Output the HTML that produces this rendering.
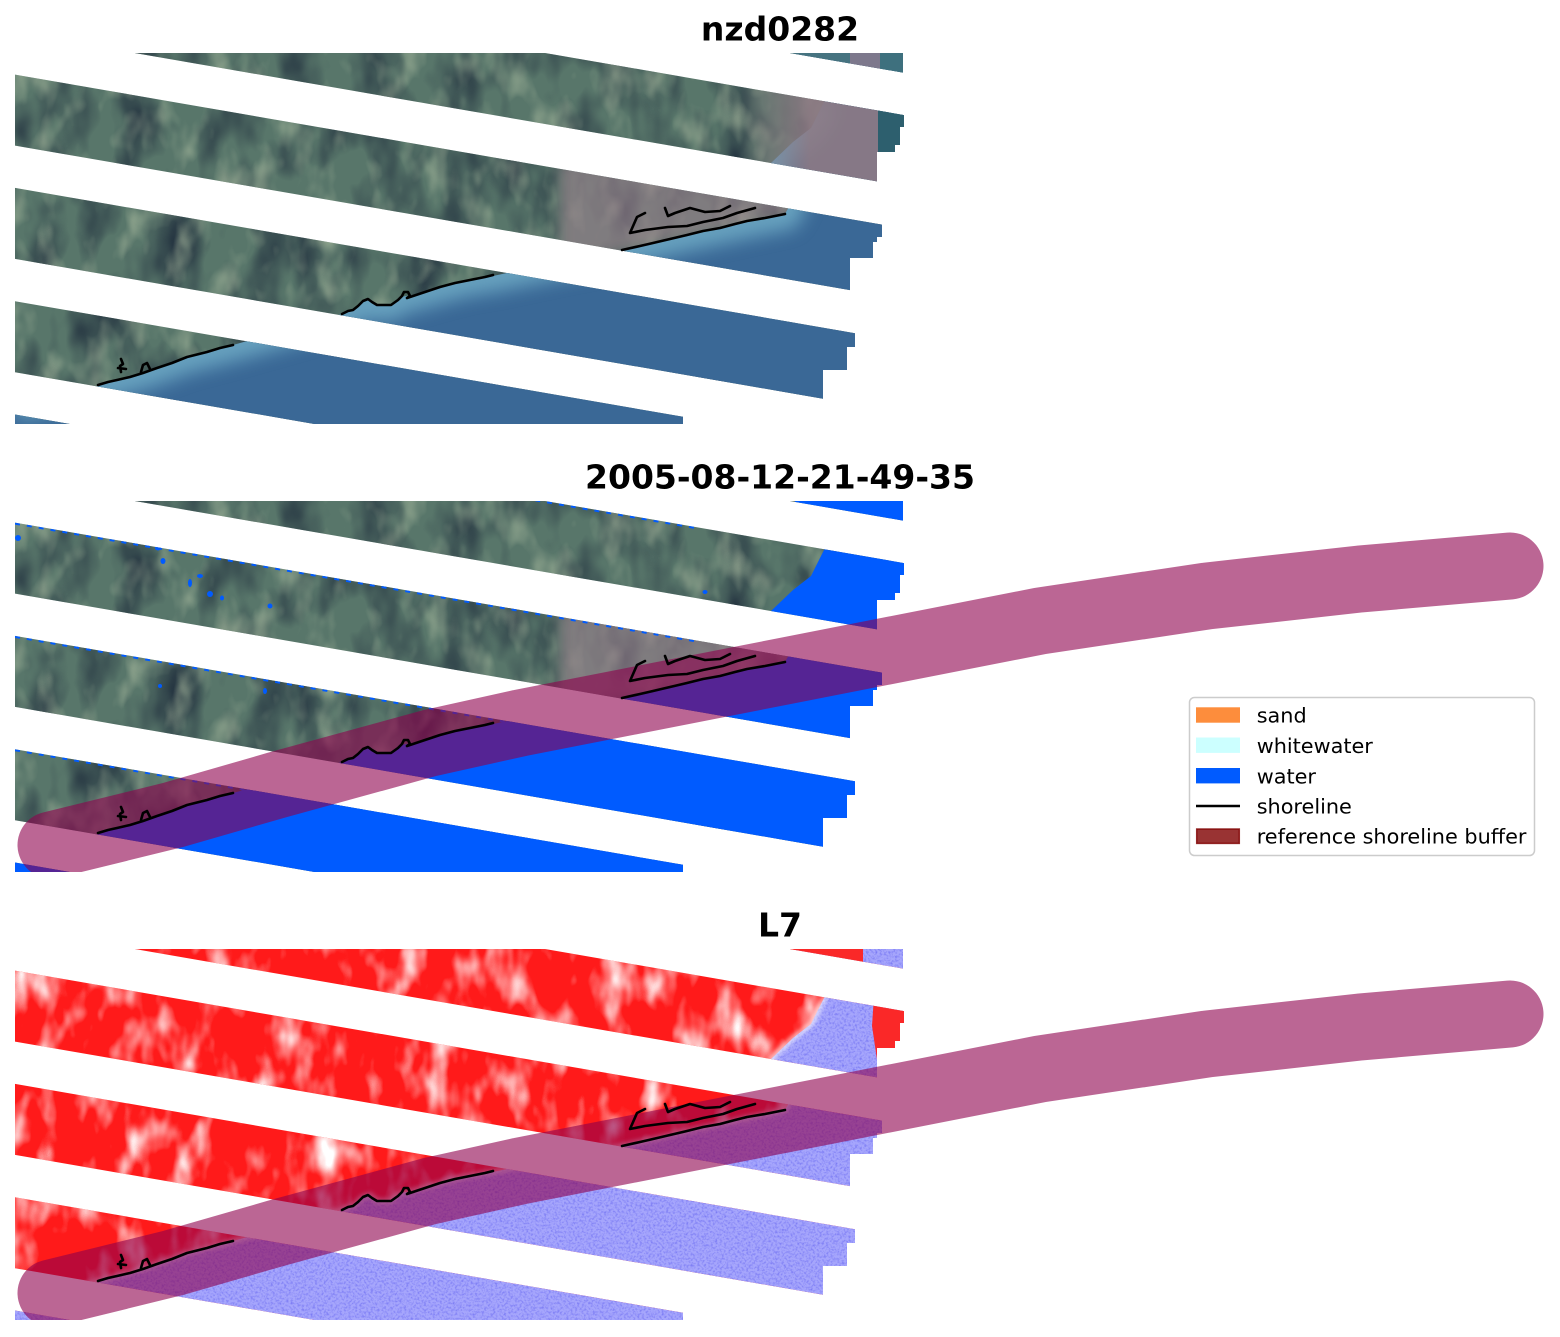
<!DOCTYPE html>
<html><head><meta charset="utf-8">
<style>html,body{margin:0;padding:0;background:#fff;}svg{display:block}</style>
</head><body>
<svg xmlns="http://www.w3.org/2000/svg" width="1560" height="1337" viewBox="0 0 1560 1337">
<defs>
  <clipPath id="cr"><rect x="15" y="53" width="890" height="371"/></clipPath>
  <clipPath id="ca"><rect x="15" y="53" width="1530" height="371"/></clipPath>
  <clipPath id="cb">
    <polygon points="15,-152 903,1.6 903,72.6 15,-81"/>
    <polygon points="15,-38.7 904,115.1 904,127 900,127 900,145 895,145 895,152 877,152 877,181.4 15,32.3"/>
    <polygon points="15,74.6 882,224.6 882,237 877,237 877,242 873,242 873,258 850,258 850,290.1 15,145.6"/>
    <polygon points="15,187.9 855,333.2 855,347 847,347 847,370 823,370 823,398.7 15,258.9"/>
    <polygon points="15,301.2 683,416.8 683,487.8 15,372.2"/>
    <polygon points="15,414.5 905,568.5 905,639.5 15,485.5"/>
  </clipPath>
  <clipPath id="cw">
    <polygon points="15,405 60,395 98,386 117,380 143,373 157,368 187,357 207,352 233,345 290,329 342,314 353,310 363,301 370,299 377,305 390,305 400,297 413,295 433,289 467,280 493,276 560,262 622,250 653,243 687,235 720,228 747,222 785,214 790,205 780,185 771,163 793,142 811,128 821,108 825,100 810,80 795,60 795,40 920,40 920,440 15,440"/>
  </clipPath>
  <linearGradient id="pinkg" x1="740" y1="0" x2="810" y2="0" gradientUnits="userSpaceOnUse">
    <stop offset="0" stop-color="rgb(142,122,132)" stop-opacity="0"/>
    <stop offset="1" stop-color="rgb(142,122,132)" stop-opacity="0.9"/>
  </linearGradient>
  <filter id="dk" filterUnits="userSpaceOnUse" x="15" y="40" width="900" height="400" color-interpolation-filters="sRGB">
    <feTurbulence type="fractalNoise" baseFrequency="0.025 0.014" numOctaves="3" seed="4"/>
    <feColorMatrix type="matrix" values="0 0 0 0 0.14  0 0 0 0 0.2  0 0 0 0 0.25  2.0 0 0 0 -0.8"/>
  </filter>
  <filter id="lt" filterUnits="userSpaceOnUse" x="15" y="40" width="900" height="400" color-interpolation-filters="sRGB">
    <feTurbulence type="fractalNoise" baseFrequency="0.035 0.02" numOctaves="3" seed="11"/>
    <feColorMatrix type="matrix" values="0 0 0 0 0.72  0 0 0 0 0.78  0 0 0 0 0.66  1.4 0 0 0 -0.7"/>
  </filter>
  <filter id="wt" filterUnits="userSpaceOnUse" x="15" y="40" width="900" height="400" color-interpolation-filters="sRGB">
    <feTurbulence type="fractalNoise" baseFrequency="0.035 0.018" numOctaves="3" seed="11"/>
    <feColorMatrix type="matrix" values="0 0 0 0 1  0 0 0 0 1  0 0 0 0 1  2.6 0 0 0 -1.25"/>
  </filter>
  <filter id="ln" filterUnits="userSpaceOnUse" x="15" y="40" width="900" height="400" color-interpolation-filters="sRGB">
    <feTurbulence type="fractalNoise" baseFrequency="0.45" numOctaves="2" seed="7"/>
    <feColorMatrix type="matrix" values="0 0 0 0 0.45  0 0 0 0 0.45  0 0 0 0 0.95  2.0 0 0 0 -0.85"/>
  </filter>
  <filter id="bl6" x="-20%" y="-20%" width="140%" height="140%"><feGaussianBlur stdDeviation="6"/></filter>
  <filter id="bl10" x="-20%" y="-50%" width="140%" height="200%"><feGaussianBlur stdDeviation="9"/></filter>
  <filter id="bl2" x="-20%" y="-50%" width="140%" height="200%"><feGaussianBlur stdDeviation="2"/></filter>
  <g id="shore" fill="none" stroke="#000" stroke-width="2.6" stroke-linejoin="round" stroke-linecap="round">
    <path d="M98,385 L108,382 117,380 130,377 143,373 157,368 172,363 187,357 207,352 220,348 233,345"/>
    <path d="M121,372 L120,366 L123,364 L121,359 M118,368 L126,369"/>
    <path d="M141,372 L143,365 L147,363 L150,369"/>
    <path d="M342,314 L348,311 353,310 358,306 363,301 368,299 372,302 377,305 385,305 391,305 398,300 402,296 404,292 408,292 410,296 407,298 413,296 425,292 440,287 455,283 470,280 485,277 493,275"/>
    <path d="M622,250 L640,246 653,243 670,239 687,235 703,231 720,228 735,224 747,221 765,218 785,214"/>
    <path d="M645,213 L637,217 L630,233 L645,230 L668,227 L687,226 L703,222 L723,218 L737,213 L755,208"/>
    <path d="M665,208 L668,216 L675,213 L690,208 L705,212 L720,211 L730,206"/>
  </g>
  <polyline id="coast" fill="none" points="15,405 60,395 98,386 117,380 143,373 157,368 187,357 207,352 233,345 290,329 342,314 353,310 363,301 370,299 377,305 390,305 400,297 413,295 433,289 467,280 493,276 560,262 622,250 653,243 687,235 720,228 747,222 785,214 790,205 780,185 771,163 793,142 811,128 821,108 825,100"/>
  <g id="buf" clip-path="url(#ca)">
    <polyline fill="none" stroke="rgb(142,0,76)" stroke-opacity="0.6" stroke-width="67" stroke-linecap="round" stroke-linejoin="round"
      points="51,397 173,367 277,337 430,295 520,275 780,224 1040,173 1207,148 1360,131 1510,118"/>
  </g>
</defs>

<g font-family="'DejaVu Sans','Liberation Sans',sans-serif" font-weight="bold" font-size="33" text-anchor="middle" fill="#000">
  <text x="780" y="40.5">nzd0282</text>
  <text x="780" y="488.5">2005-08-12-21-49-35</text>
  <text x="780" y="936.5">L7</text>
</g>

<!-- PANEL 1 -->
<g>
  <g clip-path="url(#cr)">
    <g clip-path="url(#cb)">
      <rect x="15" y="40" width="900" height="400" fill="rgb(88,118,106)"/>
      <rect x="15" y="40" width="900" height="400" filter="url(#dk)"/>
      <rect x="15" y="40" width="900" height="400" filter="url(#lt)"/>
      <polygon points="560,160 800,190 790,216 622,252 560,262" fill="rgb(150,128,138)" opacity="0.65" filter="url(#bl6)"/>
      <g clip-path="url(#cw)">
        <rect x="15" y="40" width="900" height="400" fill="rgb(58,104,150)"/>
        <use href="#coast" stroke="rgb(112,172,198)" stroke-width="32" opacity="0.85" filter="url(#bl10)"/>
      </g>
      <polygon points="740,85 878,85 878,195 740,195" fill="url(#pinkg)"/>
      <polygon points="878,85 910,85 910,195 878,195" fill="rgb(45,95,110)"/>
      <rect x="790" y="40" width="60" height="45" fill="rgb(70,115,128)"/>
      <rect x="850" y="40" width="30" height="45" fill="rgb(125,120,140)"/>
      <rect x="880" y="40" width="30" height="45" fill="rgb(62,112,126)"/>
    </g>
  </g>
  <use href="#shore"/>
</g>

<!-- PANEL 2 -->
<g transform="translate(0,448)">
  <g clip-path="url(#cr)">
    <g clip-path="url(#cb)">
      <rect x="15" y="40" width="900" height="400" fill="rgb(88,118,106)"/>
      <rect x="15" y="40" width="900" height="400" filter="url(#dk)"/>
      <rect x="15" y="40" width="900" height="400" filter="url(#lt)"/>
      <polygon points="560,160 800,190 790,216 622,252 560,262" fill="rgb(150,128,138)" opacity="0.65" filter="url(#bl6)"/>
      <rect x="15" y="40" width="900" height="400" fill="rgb(0,91,255)" clip-path="url(#cw)"/>
      <g stroke="rgb(0,91,255)" stroke-width="2" stroke-dasharray="5 7" fill="none">
        <line x1="15" y1="-37.7" x2="700" y2="80.8"/>
        <line x1="15" y1="75.6" x2="700" y2="194.1"/>
        <line x1="15" y1="188.9" x2="700" y2="307.4"/>
        <line x1="15" y1="302.2" x2="700" y2="420.7"/>
      </g>
      <g fill="rgb(0,91,255)">
        <ellipse cx="158" cy="100" rx="3" ry="2.5"/>
        <ellipse cx="163" cy="113" rx="2.5" ry="3"/>
        <ellipse cx="190" cy="135" rx="2" ry="4"/>
        <ellipse cx="200" cy="128" rx="3" ry="2"/>
        <ellipse cx="210" cy="146" rx="3" ry="3"/>
        <ellipse cx="222" cy="150" rx="2" ry="2.5"/>
        <ellipse cx="213" cy="103" rx="2" ry="2"/>
        <ellipse cx="270" cy="158" rx="2.5" ry="2.5"/>
        <ellipse cx="265" cy="243" rx="2" ry="3"/>
        <ellipse cx="18" cy="90" rx="3" ry="3"/>
        <ellipse cx="705" cy="144" rx="2.5" ry="2"/>
        <ellipse cx="160" cy="238" rx="2" ry="2"/>
      </g>
    </g>
  </g>
  <use href="#buf"/>
  <use href="#shore"/>
</g>

<!-- PANEL 3 -->
<g transform="translate(0,896)">
  <g clip-path="url(#cr)">
    <g clip-path="url(#cb)">
      <rect x="15" y="40" width="900" height="400" fill="rgb(255,26,26)"/>
      <rect x="15" y="40" width="900" height="400" filter="url(#wt)"/>
      <g clip-path="url(#cw)">
        <rect x="15" y="40" width="900" height="400" fill="rgb(166,166,252)"/>
        <rect x="15" y="40" width="900" height="400" filter="url(#ln)"/>
      </g>
      <use href="#coast" stroke="#fff" stroke-width="6" opacity="0.6" filter="url(#bl2)"/>
      <polygon points="874,100 910,100 910,170 878,170 872,130" fill="rgb(250,40,40)"/>
      <polygon points="790,40 863,40 863,85 790,85" fill="rgb(250,40,40)"/>
    </g>
  </g>
  <use href="#buf"/>
  <use href="#shore"/>
</g>

<!-- LEGEND -->
<g>
  <rect x="1189.5" y="697.5" width="345" height="158" rx="5" ry="5" fill="#fff" stroke="#cccccc" stroke-width="1.5"/>
  <rect x="1196" y="707.3" width="44" height="15.4" fill="rgb(253,141,60)"/>
  <rect x="1196" y="737.5" width="44" height="15.4" fill="rgb(204,255,255)"/>
  <rect x="1196" y="768" width="44" height="15.4" fill="rgb(0,91,255)"/>
  <line x1="1196" y1="806" x2="1240" y2="806" stroke="#000" stroke-width="2.6"/>
  <rect x="1196.7" y="829" width="42.6" height="14.4" fill="rgb(128,0,0)" fill-opacity="0.8" stroke="rgb(128,0,0)" stroke-opacity="0.8" stroke-width="1.5"/>
  <g font-family="'DejaVu Sans','Liberation Sans',sans-serif" font-size="20.8" fill="#000">
    <text x="1256.7" y="722.7">sand</text>
    <text x="1256.7" y="753.2">whitewater</text>
    <text x="1256.7" y="783.5">water</text>
    <text x="1256.7" y="813.5">shoreline</text>
    <text x="1256.7" y="843.7">reference shoreline buffer</text>
  </g>
</g>
</svg>
</body></html>
